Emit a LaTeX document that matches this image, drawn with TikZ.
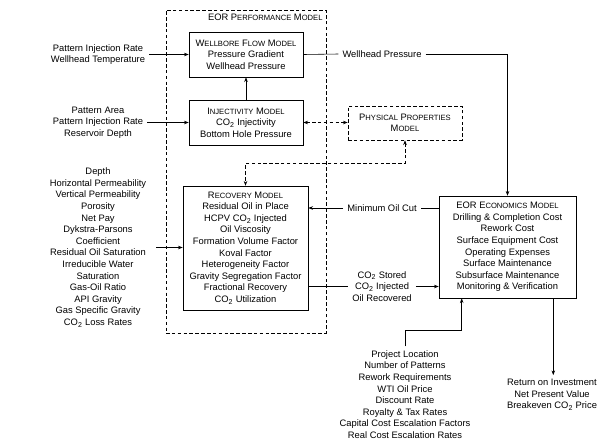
\documentclass[tikz,border=0pt]{standalone}
\usepackage{fontspec}
\setmainfont{Liberation Sans}
\usetikzlibrary{arrows.meta,positioning}

\newcommand{\smc}[1]{{\fontsize{6.5}{7}\selectfont #1}}
\newcommand{\cotwo}{CO\textsubscript{2}}

\tikzset{
	every node/.style={font=\fontsize{8}{9.9}\selectfont, align=center},
	model/.style={draw, inner sep=2pt},
	arr/.style={-{Stealth[length=4pt,width=3pt]}},
	dsh/.style={dash pattern=on 3pt off 2pt},
}

\begin{document}
\begin{tikzpicture}[x=0.03cm, y=-0.03cm, line width=0.5pt]
	\useasboundingbox (0,0) rectangle (599,442);

	% EOR performance model
	\node[draw,dsh,minimum width=4.8cm,minimum height=9.69cm] (perf) at (246,171.5) {};
	\node[anchor=north east,inner sep=3pt] (perftitle) at (perf.north east) {EOR P\smc{ERFORMANCE} M\smc{ODEL}};

	\node[model,minimum width=3.42cm,minimum height=1.35cm] (wellbore) at (246,54.5)
		{W\smc{ELLBORE} F\smc{LOW} M\smc{ODEL}\\Pressure Gradient\\Wellhead Pressure};
	\node[model,minimum width=3.42cm,minimum height=1.35cm] (inject) at (246,122.5)
		{I\smc{NJECTIVITY} M\smc{ODEL}\\\cotwo{} Injectivity\\Bottom Hole Pressure};
	\node[model,dsh,minimum width=3.42cm,minimum height=1.02cm] (phys) at (405,123)
		{P\smc{HYSICAL} P\smc{ROPERTIES}\\M\smc{ODEL}};
	\node[model,minimum width=3.75cm,minimum height=3.72cm] (recov) at (245.5,248)
		{R\smc{ECOVERY} M\smc{ODEL}\\Residual Oil in Place\\HCPV \cotwo{} Injected\\Oil Viscosity\\Formation Volume Factor\\Koval Factor\\Heterogeneity Factor\\Gravity Segregation Factor\\Fractional Recovery\\\cotwo{} Utilization};
	\node[model,minimum width=4.11cm,minimum height=3.06cm] (econ) at (507.5,247)
		{EOR E\smc{CONOMICS} M\smc{ODEL}\\Drilling \& Completion Cost\\Rework Cost\\Surface Equipment Cost\\Operating Expenses\\Surface Maintenance\\Subsurface Maintenance\\Monitoring \& Verification};

	% inputs and outputs
	\node (wellin) at (98,54.5) {Pattern Injection Rate\\Wellhead Temperature};
	\node (injin) at (98,122.5) {Pattern Area\\Pattern Injection Rate\\Reservoir Depth};
	\node (resin) at (98,247.5) {Depth\\Horizontal Permeability\\Vertical Permeability\\Porosity\\Net Pay\\Dykstra-Parsons\\Coefficient\\Residual Oil Saturation\\Irreducible Water\\Saturation\\Gas-Oil Ratio\\API Gravity\\Gas Specific Gravity\\\cotwo{} Loss Rates};
	\node (wpress) at (382,54) {Wellhead Pressure};
	\node (mincut) at (382,208) {Minimum Oil Cut};
	\node (outs) at (382,286.5) {\cotwo{} Stored\\\cotwo{} Injected\\Oil Recovered};
	\node (proj) at (405,394.5) {Project Location\\Number of Patterns\\Rework Requirements\\WTI Oil Price\\Discount Rate\\Royalty \& Tax Rates\\Capital Cost Escalation Factors\\Real Cost Escalation Rates};
	\node (ret) at (552,395) {Return on Investment\\Net Present Value\\Breakeven \cotwo{} Price};

	% connectors
	\draw[arr] (wellin.east) -- (wellin -| wellbore.west);
	\draw[arr] (injin.east) -- (injin -| inject.west);
	\draw[arr,shorten <=5pt] (resin.east) -- (resin -| recov.west);
	\draw[arr] (inject) -- (wellbore);
	\draw[dsh,{Stealth[length=4pt,width=3pt]}-{Stealth[length=4pt,width=3pt]}] (inject.east) -- (inject.east -| phys.west);
	\draw[dsh,{Stealth[length=4pt,width=3pt]}-{Stealth[length=4pt,width=3pt]}] (phys.south) -- ++(0,23) -| (recov.north);

	\draw (wellbore.east) -- (wpress.west);
	\draw[arr] (wpress.east) -| (econ.north);
	\draw (mincut -| econ.west) -- (mincut.east);
	\draw[arr] (mincut.west) -- (mincut -| recov.east);
	\draw (outs -| recov.east) -- (outs.west);
	\draw[arr] (outs.east) -- (outs -| econ.west);

	\draw[arr] (proj.north) -- ++(0,-16) -| ([xshift=0.69cm]econ.south west);
	\coordinate (econout) at ([xshift=-0.69cm]econ.south east);
	\draw[arr] (econout) -- (econout |- ret.north);
\end{tikzpicture}
\end{document}
